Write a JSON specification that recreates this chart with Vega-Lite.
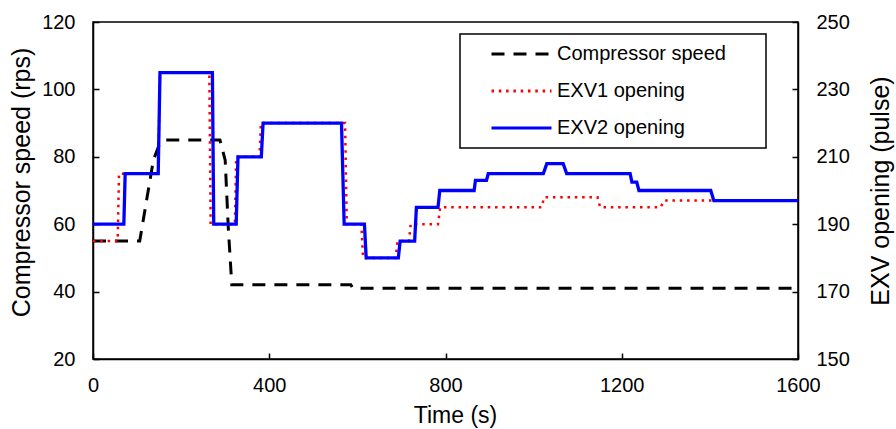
{
  "$schema": "https://vega.github.io/schema/vega-lite/v6.json",
  "width": 705,
  "height": 337,
  "autosize": {"type": "none"},
  "padding": {"left": 93, "top": 22, "right": 98, "bottom": 70},
  "background": "white",
  "config": {
    "font": "Liberation Sans",
    "view": {"stroke": "black", "strokeWidth": 1.5},
    "axis": {
      "ticks": false,
      "grid": true,
      "gridColor": "black",
      "gridWidth": 1.5,
      "gridOpacity": 1,
      "domainColor": "black",
      "domainWidth": 1.5,
      "labelColor": "black",
      "titleColor": "black",
      "labelFont": "Liberation Sans",
      "titleFont": "Liberation Sans",
      "labelFontSize": 20,
      "titleFontSize": 23,
      "titleFontWeight": "normal",
      "labelFlush": false,
      "labelOverlap": false,
      "format": "d"
    }
  },
  "data": {
    "values": [
      {"t": 0, "v": 55, "s": "Compressor speed"},
      {"t": 106, "v": 55, "s": "Compressor speed"},
      {"t": 137, "v": 79, "s": "Compressor speed"},
      {"t": 150, "v": 83.5, "s": "Compressor speed"},
      {"t": 163, "v": 85, "s": "Compressor speed"},
      {"t": 288, "v": 85, "s": "Compressor speed"},
      {"t": 300, "v": 79, "s": "Compressor speed"},
      {"t": 307, "v": 59, "s": "Compressor speed"},
      {"t": 315, "v": 42, "s": "Compressor speed"},
      {"t": 585, "v": 42, "s": "Compressor speed"},
      {"t": 590, "v": 41, "s": "Compressor speed"},
      {"t": 1600, "v": 41, "s": "Compressor speed"},

      {"t": 0, "v": 185, "s": "EXV1 opening"},
      {"t": 56, "v": 185, "s": "EXV1 opening"},
      {"t": 59, "v": 205, "s": "EXV1 opening"},
      {"t": 148, "v": 205, "s": "EXV1 opening"},
      {"t": 152, "v": 235, "s": "EXV1 opening"},
      {"t": 264, "v": 235, "s": "EXV1 opening"},
      {"t": 267, "v": 190, "s": "EXV1 opening"},
      {"t": 322, "v": 190, "s": "EXV1 opening"},
      {"t": 325, "v": 210, "s": "EXV1 opening"},
      {"t": 378, "v": 210, "s": "EXV1 opening"},
      {"t": 381, "v": 220, "s": "EXV1 opening"},
      {"t": 572, "v": 220, "s": "EXV1 opening"},
      {"t": 576, "v": 190, "s": "EXV1 opening"},
      {"t": 609, "v": 190, "s": "EXV1 opening"},
      {"t": 613, "v": 180, "s": "EXV1 opening"},
      {"t": 687, "v": 180, "s": "EXV1 opening"},
      {"t": 691, "v": 185, "s": "EXV1 opening"},
      {"t": 717, "v": 185, "s": "EXV1 opening"},
      {"t": 721, "v": 190, "s": "EXV1 opening"},
      {"t": 783, "v": 190, "s": "EXV1 opening"},
      {"t": 788, "v": 195, "s": "EXV1 opening"},
      {"t": 1018, "v": 195, "s": "EXV1 opening"},
      {"t": 1024, "v": 198, "s": "EXV1 opening"},
      {"t": 1145, "v": 198, "s": "EXV1 opening"},
      {"t": 1151, "v": 195, "s": "EXV1 opening"},
      {"t": 1288, "v": 195, "s": "EXV1 opening"},
      {"t": 1296, "v": 197, "s": "EXV1 opening"},
      {"t": 1600, "v": 197, "s": "EXV1 opening"},

      {"t": 0, "v": 190, "s": "EXV2 opening"},
      {"t": 70, "v": 190, "s": "EXV2 opening"},
      {"t": 73, "v": 205, "s": "EXV2 opening"},
      {"t": 148, "v": 205, "s": "EXV2 opening"},
      {"t": 152, "v": 235, "s": "EXV2 opening"},
      {"t": 271, "v": 235, "s": "EXV2 opening"},
      {"t": 274, "v": 190, "s": "EXV2 opening"},
      {"t": 325, "v": 190, "s": "EXV2 opening"},
      {"t": 329, "v": 210, "s": "EXV2 opening"},
      {"t": 382, "v": 210, "s": "EXV2 opening"},
      {"t": 386, "v": 220, "s": "EXV2 opening"},
      {"t": 564, "v": 220, "s": "EXV2 opening"},
      {"t": 570, "v": 190, "s": "EXV2 opening"},
      {"t": 616, "v": 190, "s": "EXV2 opening"},
      {"t": 620, "v": 180, "s": "EXV2 opening"},
      {"t": 693, "v": 180, "s": "EXV2 opening"},
      {"t": 697, "v": 185, "s": "EXV2 opening"},
      {"t": 730, "v": 185, "s": "EXV2 opening"},
      {"t": 734, "v": 195, "s": "EXV2 opening"},
      {"t": 783, "v": 195, "s": "EXV2 opening"},
      {"t": 787, "v": 200, "s": "EXV2 opening"},
      {"t": 865, "v": 200, "s": "EXV2 opening"},
      {"t": 868, "v": 203, "s": "EXV2 opening"},
      {"t": 893, "v": 203, "s": "EXV2 opening"},
      {"t": 897, "v": 205, "s": "EXV2 opening"},
      {"t": 1022, "v": 205, "s": "EXV2 opening"},
      {"t": 1030, "v": 208, "s": "EXV2 opening"},
      {"t": 1067, "v": 208, "s": "EXV2 opening"},
      {"t": 1075, "v": 205, "s": "EXV2 opening"},
      {"t": 1219, "v": 205, "s": "EXV2 opening"},
      {"t": 1223, "v": 202.5, "s": "EXV2 opening"},
      {"t": 1234, "v": 202.5, "s": "EXV2 opening"},
      {"t": 1239, "v": 200, "s": "EXV2 opening"},
      {"t": 1402, "v": 200, "s": "EXV2 opening"},
      {"t": 1409, "v": 197, "s": "EXV2 opening"},
      {"t": 1600, "v": 197, "s": "EXV2 opening"}
    ]
  },
  "encoding": {
    "x": {
      "field": "t",
      "type": "quantitative",
      "scale": {"domain": [0, 1600], "nice": false, "zero": false},
      "axis": {
        "values": [0, 400, 800, 1200, 1600],
        "title": "Time (s)",
        "titleX": 362,
        "labelPadding": 16,
        "titlePadding": 9,
        "gridDash": [6, 331],
        "gridDashOffset": 6
      }
    },
    "color": {
      "field": "s",
      "type": "nominal",
      "scale": {
        "domain": ["Compressor speed", "EXV1 opening", "EXV2 opening"],
        "range": ["#000000", "#ff0000", "#0000ff"]
      },
      "legend": {
        "title": null,
        "orient": "none",
        "legendX": 367,
        "legendY": 12,
        "strokeColor": "black",
        "fillColor": "white",
        "padding": 10,
        "symbolType": "stroke",
        "symbolSize": 3600,
        "symbolStrokeWidth": 3,
        "symbolOffset": 20,
        "labelOffset": 4,
        "labelFontSize": 20,
        "labelLimit": 300,
        "labelColor": "black",
        "labelFont": "Liberation Sans",
        "clipHeight": 20,
        "rowPadding": 17,
        "encode": {
          "legend": {"update": {"strokeWidth": {"value": 1.5}}},
          "entries": {"update": {"width": {"value": 286}}}
        }
      }
    },
    "strokeDash": {
      "field": "s",
      "type": "nominal",
      "scale": {
        "domain": ["Compressor speed", "EXV1 opening", "EXV2 opening"],
        "range": [[13, 9], [2.5, 4.8], [1, 0]]
      },
      "legend": {
        "title": null,
        "orient": "none",
        "legendX": 367,
        "legendY": 12,
        "strokeColor": "black",
        "fillColor": "white",
        "padding": 10,
        "symbolType": "stroke",
        "symbolSize": 3600,
        "symbolStrokeWidth": 3,
        "symbolOffset": 20,
        "labelOffset": 4,
        "labelFontSize": 20,
        "labelLimit": 300,
        "labelColor": "black",
        "labelFont": "Liberation Sans",
        "clipHeight": 20,
        "rowPadding": 17,
        "encode": {
          "legend": {"update": {"strokeWidth": {"value": 1.5}}},
          "entries": {"update": {"width": {"value": 286}}}
        }
      }
    }
  },
  "layer": [
    {
      "transform": [{"filter": "datum.s === 'Compressor speed'"}],
      "mark": {"type": "line", "strokeWidth": 3},
      "encoding": {
        "y": {
          "field": "v",
          "type": "quantitative",
          "scale": {"domain": [20, 120], "nice": false, "zero": false},
          "axis": {
            "orient": "left",
            "values": [20, 40, 60, 80, 100, 120],
            "title": "Compressor speed (rps)",
            "titleFontSize": 25,
            "titleY": 160,
            "labelPadding": 18,
            "titlePadding": 7,
            "gridDash": [6, 693, 6, 2000]
          }
        }
      }
    },
    {
      "layer": [
        {
          "transform": [{"filter": "datum.s === 'EXV1 opening'"}],
          "mark": {"type": "line", "strokeWidth": 2.5}
        },
        {
          "transform": [{"filter": "datum.s === 'EXV2 opening'"}],
          "mark": {"type": "line", "strokeWidth": 3.3}
        }
      ],
      "encoding": {
        "y": {
          "field": "v",
          "type": "quantitative",
          "scale": {"domain": [150, 250], "nice": false, "zero": false},
          "axis": {
            "orient": "right",
            "values": [150, 170, 190, 210, 230, 250],
            "title": "EXV  opening  (pulse)",
            "titleFontSize": 25,
            "titleAngle": -90,
            "titleBaseline": "top",
            "labelPadding": 18,
            "titlePadding": 19,
            "grid": false
          }
        }
      }
    }
  ],
  "resolve": {"scale": {"y": "independent"}}
}
